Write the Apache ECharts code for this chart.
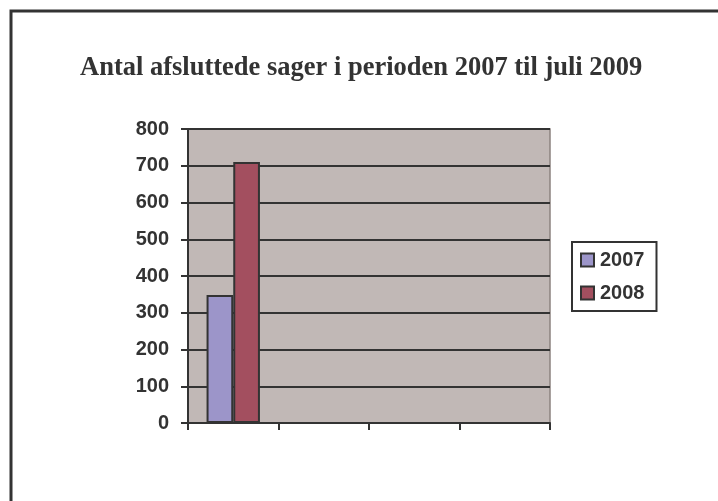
<!DOCTYPE html>
<html>
<head>
<meta charset="utf-8">
<script src="https://cdn.jsdelivr.net/npm/echarts@6/dist/echarts.min.js"></script>
<style>
html,body{margin:0;padding:0;background:#fff;}
#chart{width:718px;height:501px;}
</style>
</head>
<body>
<div id="chart"></div>
<script>
var titleText = 'Antal afsluttede sager i perioden 2007 til juli 2009';
var categories = ['', '', '', ''];
var seriesNames = ['2007', '2008'];
var values2007 = [348, null, null, null];
var values2008 = [710, null, null, null];
var yTicks = { min: 0, max: 800, interval: 100 };

var chart = echarts.init(document.getElementById('chart'));
var dark = '#333333';
chart.setOption({
  backgroundColor: '#ffffff',
  animation: false,
  graphic: [{
    type: 'rect',
    shape: { x: 11, y: 11, width: 900, height: 700 },
    style: { fill: 'none', stroke: dark, lineWidth: 3 },
    silent: true
  }],
  title: {
    text: titleText,
    left: 75,
    top: 50,
    textStyle: {
      fontFamily: '"Liberation Serif", "Times New Roman", serif',
      fontWeight: 'bold',
      fontSize: 26.5,
      color: dark
    }
  },
  legend: {
    orient: 'vertical',
    left: 572,
    top: 242,
    padding: [8, 12, 8, 8],
    borderColor: dark,
    borderWidth: 2,
    backgroundColor: '#fff',
    itemGap: 13,
    itemWidth: 13,
    itemHeight: 13,
    icon: 'rect',
    itemStyle: { borderColor: dark, borderWidth: 2 },
    textStyle: {
      fontFamily: '"Liberation Sans", Arial, sans-serif',
      fontWeight: 'bold',
      fontSize: 20,
      color: dark,
      padding: [0, 0, 0, 1]
    },
    data: seriesNames
  },
  grid: {
    left: 188, right: 168, top: 129, bottom: 78,
    show: true,
    backgroundColor: '#c1b8b6',
    borderColor: '#8c8280',
    borderWidth: 1.5
  },
  xAxis: {
    type: 'category',
    data: categories,
    axisLine: { show: true, lineStyle: { color: dark, width: 2 } },
    axisTick: { show: true, length: 7, lineStyle: { color: dark, width: 2 } },
    axisLabel: { show: false },
    splitLine: { show: false }
  },
  yAxis: {
    type: 'value',
    min: yTicks.min, max: yTicks.max, interval: yTicks.interval,
    axisLine: { show: true, lineStyle: { color: dark, width: 2 } },
    axisTick: { show: true, length: 7, lineStyle: { color: dark, width: 2 } },
    axisLabel: {
      margin: 19,
      fontFamily: '"Liberation Sans", Arial, sans-serif',
      fontWeight: 'bold',
      fontSize: 20,
      color: dark
    },
    splitLine: { show: true, lineStyle: { color: dark, width: 2 } }
  },
  series: [{
    name: seriesNames[0],
    type: 'bar',
    data: values2007,
    barGap: '0%',
    barCategoryGap: '41%',
    itemStyle: { color: '#9c95c9', borderColor: dark, borderWidth: 2 }
  }, {
    name: seriesNames[1],
    type: 'bar',
    data: values2008,
    barGap: '0%',
    barCategoryGap: '41%',
    itemStyle: { color: '#a34f5f', borderColor: dark, borderWidth: 2 }
  }]
});
</script>
</body>
</html>
